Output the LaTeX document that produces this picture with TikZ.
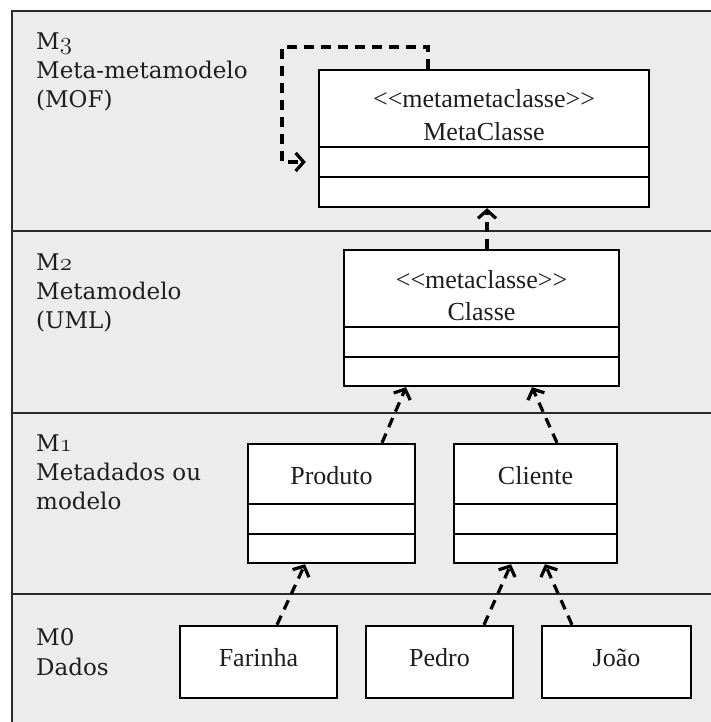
\documentclass[tikz,border=0pt]{standalone}
\usepackage{fontspec}
\newfontfamily\boxfont{Liberation Serif}
\newfontfamily\capfont{DejaVu Serif}
\usetikzlibrary{arrows.meta}
% old-style figures taken from the Latin Modern math italic font
\newcommand\osf[1]{{\fontsize{29}{29}\usefont{OML}{lmm}{b}{it}#1}}
\definecolor{bandgray}{HTML}{ECECEC}
\definecolor{framegray}{HTML}{2A2A2A}
\definecolor{inkgray}{HTML}{1E1E1E}
\tikzset{
  band/.style={fill=bandgray},
  frameline/.style={draw=framegray, line width=2pt},
  classbox/.style={draw=black, fill=white, line width=2.4pt, inner sep=0pt},
  divider/.style={draw=black, line width=2.4pt},
  boxtxt/.style={font=\boxfont\fontsize{26}{30}\selectfont, text=inkgray, inner sep=0pt, anchor=base},
  lbl/.style={font=\capfont\fontsize{23}{29}\selectfont, text=inkgray, inner sep=0pt, anchor=base west},
  dep/.style={line width=3.2pt, dash pattern=on 10pt off 7pt,
    -{Straight Barb[length=8pt,width=18pt,line width=3.2pt]}},
}
\begin{document}
\begin{tikzpicture}[x=1pt,y=-1pt]
\useasboundingbox (0,0) rectangle (710,722);

% layered frame
\fill[band] (12,11) rectangle (714,726);
\draw[frameline] (12,11) rectangle (714,726);
\draw[frameline] (12,231) -- (714,231);
\draw[frameline] (12,413) -- (714,413);
\draw[frameline] (12,594) -- (714,594);

% layer captions
\node[lbl] (m3a) at (36,50)  {M\osf{3}};
\node[lbl] (m3b) at (36,79)  {Meta-metamodelo};
\node[lbl] (m3c) at (36,108) {(MOF)};
\node[lbl] (m2a) at (36,270) {M\osf{2}};
\node[lbl] (m2b) at (36,299) {Metamodelo};
\node[lbl] (m2c) at (36,328) {(UML)};
\node[lbl] (m1a) at (36,451) {M\osf{1}};
\node[lbl] (m1b) at (36,480) {Metadados ou};
\node[lbl] (m1c) at (36,509) {modelo};
\node[lbl] (m0a) at (36,645) {M0};
\node[lbl] (m0b) at (36,675) {Dados};

% M3: MetaClasse
\node[classbox, minimum width=330pt, minimum height=137pt] (mc) at (484,138.5) {};
\draw[divider] (mc.west |- 0,147) -- (mc.east |- 0,147);
\draw[divider] (mc.west |- 0,177) -- (mc.east |- 0,177);
\node[boxtxt] (mcst) at (484,108) {<\kern0pt<metametaclasse>\kern0pt>};
\node[boxtxt] (mcnm) at (484,141) {MetaClasse};

% M2: Classe
\node[classbox, minimum width=275pt, minimum height=136pt] (cl) at (481.5,318) {};
\draw[divider] (cl.west |- 0,327) -- (cl.east |- 0,327);
\draw[divider] (cl.west |- 0,357) -- (cl.east |- 0,357);
\node[boxtxt] (clst) at (481.5,288) {<\kern0pt<metaclasse>\kern0pt>};
\node[boxtxt] (clnm) at (481.5,320) {Classe};

% M1: Produto and Cliente
\node[classbox, minimum width=167pt, minimum height=119pt] (prod) at (331.5,503.5) {};
\draw[divider] (prod.west |- 0,504) -- (prod.east |- 0,504);
\draw[divider] (prod.west |- 0,534) -- (prod.east |- 0,534);
\node[boxtxt] (prodnm) at (331.5,484) {Produto};

\node[classbox, minimum width=163pt, minimum height=119pt] (cli) at (535.5,503.5) {};
\draw[divider] (cli.west |- 0,504) -- (cli.east |- 0,504);
\draw[divider] (cli.west |- 0,534) -- (cli.east |- 0,534);
\node[boxtxt] (clinm) at (535.5,484) {Cliente};

% M0: objects
\node[classbox, minimum width=157pt, minimum height=72pt] (far) at (258.5,662) {};
\node[boxtxt] (farnm) at (258.5,666) {Farinha};
\node[classbox, minimum width=147pt, minimum height=72pt] (ped) at (439.5,662) {};
\node[boxtxt] (pednm) at (439.5,666) {Pedro};
\node[classbox, minimum width=149pt, minimum height=72pt] (joao) at (616.5,662) {};
\node[boxtxt] (joaonm) at (616.5,666) {João};

% instance-of dependencies
\coordinate (loopTL) at (282,47);
\draw[dep, shorten >=12pt] ([xshift=-56pt]mc.north) |- (loopTL) |- ([yshift=-23.5pt]mc.west);
\draw[dep] ([xshift=5.5pt]cl.north) -- ([xshift=3pt]mc.south);
\draw[dep] ([xshift=50.5pt]prod.north) -- ([xshift=-75.5pt]cl.south);
\draw[dep] ([xshift=21.5pt]cli.north) -- ([xshift=50.5pt]cl.south);
\draw[dep] ([xshift=18.5pt]far.north) -- ([xshift=-26.5pt]prod.south);
\draw[dep] ([xshift=44.5pt]ped.north) -- ([xshift=-24.5pt]cli.south);
\draw[dep] ([xshift=-44.5pt]joao.north) -- ([xshift=9.5pt]cli.south);
\end{tikzpicture}
\end{document}
